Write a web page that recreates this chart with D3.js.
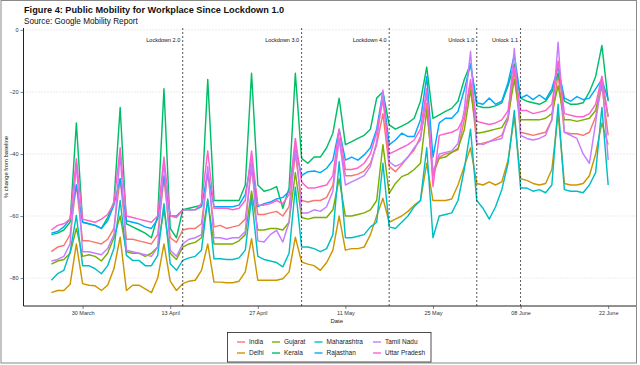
<!DOCTYPE html>
<html>
<head>
<meta charset="utf-8">
<script src="https://cdn.jsdelivr.net/npm/d3@7"></script>
<style>
body { margin: 0; background: #fff; }
svg { display: block; font-family: "Liberation Sans", Arial, sans-serif; }
</style>
</head>
<body>
<svg id="chart" width="640" height="365"></svg>
<script>
// legend order and ggplot hues
var states = ["India", "Delhi", "Gujarat", "Kerala", "Maharashtra", "Rajasthan", "Tamil Nadu", "Uttar Pradesh"];
var colours = ["#F8766D", "#CD9600", "#7CAE00", "#00BE67", "#00BFC4", "#00A9FF", "#C77CFF", "#FF61CC"];

var firstDay = "2020-03-25", lastDay = "2020-06-22";
var tickDays = ["2020-03-30", "2020-04-13", "2020-04-27", "2020-05-11", "2020-05-25", "2020-06-08", "2020-06-22"];
var tickNames = ["30 March", "13 April", "27 April", "11 May", "25 May", "08 June", "22 June"];
var phaseDays = ["2020-04-15", "2020-05-04", "2020-05-18", "2020-06-01", "2020-06-08"];
var phaseNames = ["Lockdown 2.0", "Lockdown 3.0", "Lockdown 4.0", "Unlock 1.0", "Unlock 1.1"];
var yTicks = [0, -20, -40, -60, -80];

// % change from baseline, one value per day 25 Mar .. 22 Jun
var india = [-71.5,-70,-69.5,-66,-50,
  -68,-68,-68.5,-69,-67.5,-64,-48,
  -67.5,-67.5,-68,-68.5,-69,-66,-48,
  -67,-68.5,-64.5,-64,-64,-62.5,-46,
  -63.5,-63,-64,-63.5,-63,-61,-45,
  -59.5,-59.5,-59,-58.5,-60,-57,-40,
  -55,-55.5,-55,-55,-54,-50,-35,
  -47,-47,-46.5,-45.5,-43,-37,-27,
  -44,-45.7,-43.5,-41,-38.7,-34.4,-23.7,
  -47.3,-41,-40,-39.5,-38.7,-29,-17.2,
  -37,-36.5,-36,-35,-34,-29,-13,
  -33,-33.5,-34,-33.5,-33,-29,-14,
  -33,-33.5,-33.5,-34,-33,-28,-18,
  -34];
var delhi = [-84.7,-84,-84,-82,-69,
  -81.8,-82.3,-82.5,-84,-82.3,-77,-66.8,
  -84,-82.3,-82.3,-83.5,-84.7,-80,-69,
  -81,-84,-81.8,-81,-80.7,-77.5,-69,
  -81.3,-81.3,-81.5,-81.5,-81,-78,-67.3,
  -80.7,-80.7,-80.7,-80.7,-80.2,-78,-66.8,
  -74.8,-75.5,-76,-77.5,-75,-71,-60,
  -71,-70.5,-70.5,-70,-66,-60,-54.3,
  -62,-61,-60,-58.5,-56.5,-55,-43,
  -55,-55,-55,-54.5,-50,-44,-38,
  -49.5,-50,-49,-50,-49,-42,-28,
  -48,-48.5,-49.5,-50,-49.5,-45,-27,
  -49.5,-50,-50,-49.5,-47,-40,-30,
  -37];
var gujarat = [-75.5,-74.5,-74,-72,-64,
  -73,-72.5,-73,-74.5,-72,-67,-60,
  -71.5,-72,-72,-73,-72,-70,-58,
  -72,-74,-70,-69,-68.5,-67,-55,
  -69,-69,-69,-69,-68,-66,-52,
  -64.5,-64.5,-64,-64,-64.5,-62,-46,
  -60.5,-61,-60.5,-60.5,-60.5,-58,-48,
  -60,-60,-59.5,-59,-58,-55,-37,
  -52.7,-49.5,-47.3,-46.5,-45,-43,-25.8,
  -46,-41.4,-41,-39.5,-38.2,-32.3,-19.4,
  -33.3,-33,-32.5,-32,-31.5,-28,-16,
  -29,-29,-29,-29,-28.5,-27,-18,
  -29,-29,-29.5,-29,-28.5,-26,-17,
  -28];
var kerala = [-66,-65.5,-64.5,-62,-30,
  -62,-62.5,-63,-64,-60.5,-55.5,-25,
  -62.5,-63.5,-64.5,-65.5,-67,-60,-19,
  -64,-67,-58,-57.5,-57,-56.5,-16,
  -55,-55,-55,-55,-55,-50,-14,
  -50,-52,-51.5,-50.5,-57.5,-51,-14,
  -41.4,-43,-41,-41,-38,-33.3,-22,
  -37,-36,-35,-34,-32,-22,-20,
  -30.6,-32,-31,-30,-28.5,-23,-12,
  -28.5,-27.4,-26.3,-25.3,-23,-16,-11,
  -24.5,-25,-25,-24.5,-23.5,-18,-11,
  -22,-23,-23.5,-24,-23,-20,-14,
  -23,-24,-24,-23.5,-20,-15,-5,
  -23];
var maharashtra = [-80.7,-78.6,-77.5,-71.6,-59.8,
  -76,-76,-77,-78.6,-76,-70.5,-55,
  -72.7,-74.3,-74.3,-76,-76,-72.7,-56,
  -75.4,-77.5,-74.3,-73.5,-73,-71,-54.5,
  -73.8,-73.8,-74,-74,-73.5,-71,-54,
  -73,-74,-74.5,-75,-76.4,-72,-50.7,
  -70,-70,-70.5,-71.5,-70.5,-66,-42.5,
  -67,-67,-66.5,-66,-63.5,-62,-43,
  -63.5,-64,-62,-60,-57,-55,-38,
  -67,-60,-59.5,-59,-55,-45,-32,
  -55,-57.5,-61,-57,-51.5,-43,-26,
  -51,-51,-52,-51.5,-52.5,-50,-24,
  -51.5,-52,-52,-52.5,-50,-46,-25,
  -50];
var rajasthan = [-65.5,-65,-63.5,-61,-50,
  -62,-62.5,-63,-64,-61.5,-56.5,-48,
  -61.5,-62,-62.5,-63.5,-64,-61,-47,
  -60,-60,-58,-58,-58,-57,-46,
  -57,-57,-57,-57,-56.5,-53,-42,
  -57,-56,-55.5,-54.5,-54,-52,-38,
  -47,-45.7,-45.5,-46,-44.6,-42,-32,
  -42,-41,-42,-40.3,-38,-32,-20,
  -37,-35.5,-33.3,-34.4,-34.4,-29,-15,
  -41,-30,-28.5,-28.5,-26.3,-19.4,-11,
  -23.5,-24,-22,-24,-23,-17,-8,
  -22,-21,-22.5,-21,-22.5,-19,-12,
  -22,-23,-21.5,-22.5,-22,-19,-16,
  -22.5];
var tamilNadu = [-74.5,-74,-73,-69,-43,
  -71.5,-71.5,-72,-72.5,-70.5,-66,-40,
  -71,-71.5,-72,-72.5,-73,-70,-42,
  -71,-73,-69,-67.5,-67,-66,-44,
  -67,-67,-67.5,-67,-67,-65,-41.5,
  -68,-68.4,-66,-64.6,-68.4,-62,-36,
  -59,-59,-58,-58.5,-57,-52,-35,
  -50,-49,-48,-47,-44,-36,-19.4,
  -42.5,-44,-43,-41,-38,-35.5,-20,
  -46,-40,-39.5,-39,-36.6,-25.8,-7,
  -36.5,-37,-36,-35.5,-35,-28,-6,
  -34,-35,-35.5,-35,-34,-29,-4,
  -33,-34,-35,-40,-43,-30,-15,
  -42];
var uttarPradesh = [-64.5,-63,-62.5,-61,-41.5,
  -61,-61.5,-62,-61,-59.5,-56,-38,
  -60,-60.5,-61,-61.5,-62,-60,-41,
  -60,-60.5,-58,-58,-58,-56,-39,
  -57.5,-57.5,-57.5,-58,-57.5,-55,-39,
  -56.5,-56.5,-56,-55,-56,-53,-35,
  -49,-51,-51,-50.5,-50,-47,-32,
  -45,-45,-44.5,-43,-40,-33,-22.6,
  -40,-39,-38,-37,-35.5,-32,-19,
  -50.5,-34,-33.5,-33,-32,-28,-16,
  -29.5,-30,-30.5,-30,-29,-26,-12,
  -26,-26,-27,-26.5,-26,-24,-10,
  -27,-27.5,-28,-28,-27,-24,-15,
  -28];

var values = [india, delhi, gujarat, kerala, maharashtra, rajasthan, tamilNadu, uttarPradesh];

var parse = d3.utcParse("%Y-%m-%d");
var days = d3.utcDay.range(parse(firstDay), d3.utcDay.offset(parse(lastDay), 1));

var svg = d3.select("#chart");

// outer frame
svg.append("rect").attr("x", 1).attr("y", 0.5).attr("width", 635.5).attr("height", 362.5)
   .attr("fill", "none").attr("stroke", "#8a8a8a").attr("stroke-width", 1);

var plotLeft = 23.5, plotRight = 636, plotTop = 28, plotBottom = 306;
var pad = 4.45 * 864e5;

var x = d3.scaleUtc()
    .domain([+days[0] - pad, +days[days.length - 1] + pad])
    .range([plotLeft, plotRight]);

var y = d3.scaleLinear()
    .domain([-89, 0.6])
    .range([plotBottom, plotTop]);

// title
svg.append("text").attr("x", 24).attr("y", 13)
   .attr("font-size", 9.2).attr("font-weight", "bold").attr("fill", "#111")
   .text("Figure 4: Public Mobility for Workplace Since Lockdown 1.0");
svg.append("text").attr("x", 24).attr("y", 24)
   .attr("font-size", 8.2).attr("fill", "#111")
   .text("Source: Google Mobility Report");

// dotted grid
svg.append("g").selectAll("line").data(yTicks).enter().append("line")
   .attr("x1", plotLeft).attr("x2", plotRight)
   .attr("y1", function(d) { return y(d); }).attr("y2", function(d) { return y(d); })
   .attr("stroke", "#cfcfcf").attr("stroke-width", 0.8).attr("stroke-dasharray", "1,2");

// y axis
var yAxis = svg.append("g")
    .attr("transform", "translate(" + plotLeft + ",0)")
    .call(d3.axisLeft(y).tickValues(yTicks).tickSize(3).tickPadding(2));
yAxis.select(".domain").attr("d", "M0," + plotTop + "V" + plotBottom).attr("stroke", "#222").attr("stroke-width", 1);
yAxis.selectAll(".tick line").attr("stroke", "#333").attr("stroke-width", 0.6);
yAxis.selectAll("text").attr("font-size", 5.5).attr("fill", "#333").attr("font-family", null);

// x axis
var xAxis = svg.append("g")
    .attr("transform", "translate(0," + plotBottom + ")")
    .call(d3.axisBottom(x).tickValues(tickDays.map(parse))
            .tickFormat(function(d, i) { return tickNames[i]; })
            .tickSize(3).tickPadding(2));
xAxis.select(".domain").attr("d", "M" + plotLeft + ",0H" + plotRight).attr("stroke", "#222").attr("stroke-width", 1);
xAxis.selectAll(".tick line").attr("stroke", "#333").attr("stroke-width", 0.6);
xAxis.selectAll("text").attr("font-size", 5.5).attr("fill", "#333").attr("font-family", null);

svg.append("text").attr("x", (plotLeft + plotRight) / 2 + 7).attr("y", 323)
   .attr("text-anchor", "middle").attr("font-size", 6).attr("fill", "#222").text("Date");
svg.append("text")
   .attr("transform", "translate(8," + ((plotTop + plotBottom) / 2) + ") rotate(-90)")
   .attr("text-anchor", "middle").attr("font-size", 5.8).attr("fill", "#222")
   .text("% change from baseline");

// state lines
var line = d3.line()
    .x(function(d, i) { return x(days[i]); })
    .y(function(d) { return y(d); });

svg.append("g").selectAll("path").data(values).enter().append("path")
   .attr("d", line)
   .attr("fill", "none")
   .attr("stroke", function(d, i) { return colours[i]; })
   .attr("stroke-width", 1.45)
   .attr("stroke-linejoin", "round");

// lockdown phases
var phases = svg.append("g").selectAll("g").data(phaseDays).enter().append("g");
phases.append("line")
   .attr("x1", function(d) { return x(parse(d)); }).attr("x2", function(d) { return x(parse(d)); })
   .attr("y1", plotTop).attr("y2", plotBottom)
   .attr("stroke", "#111").attr("stroke-width", 0.7).attr("stroke-dasharray", "2,2");
phases.append("text")
   .attr("x", function(d) { return x(parse(d)) - 2.5; }).attr("y", 42)
   .attr("text-anchor", "end").attr("font-size", 5.5).attr("fill", "#111")
   .text(function(d, i) { return phaseNames[i]; });

// legend, two rows filled by column
var legend = svg.append("g");
legend.append("rect").attr("x", 227.5).attr("y", 332.5).attr("width", 203.5).attr("height", 29.5)
   .attr("fill", "#fff").attr("stroke", "#222").attr("stroke-width", 0.8);
var colX = [237, 272, 314.5, 373];
var item = legend.selectAll("g.item").data(states).enter().append("g")
   .attr("transform", function(d, i) {
       return "translate(" + colX[Math.floor(i / 2)] + "," + (342 + (i % 2) * 11) + ")";
   });
item.append("line").attr("x1", 0).attr("x2", 8).attr("y1", 0).attr("y2", 0)
   .attr("stroke", function(d, i) { return colours[i]; }).attr("stroke-width", 1.4);
item.append("text").attr("x", 12).attr("y", 2.3)
   .attr("font-size", 6.5).attr("fill", "#222")
   .text(function(d) { return d; });
</script>
</body>
</html>
